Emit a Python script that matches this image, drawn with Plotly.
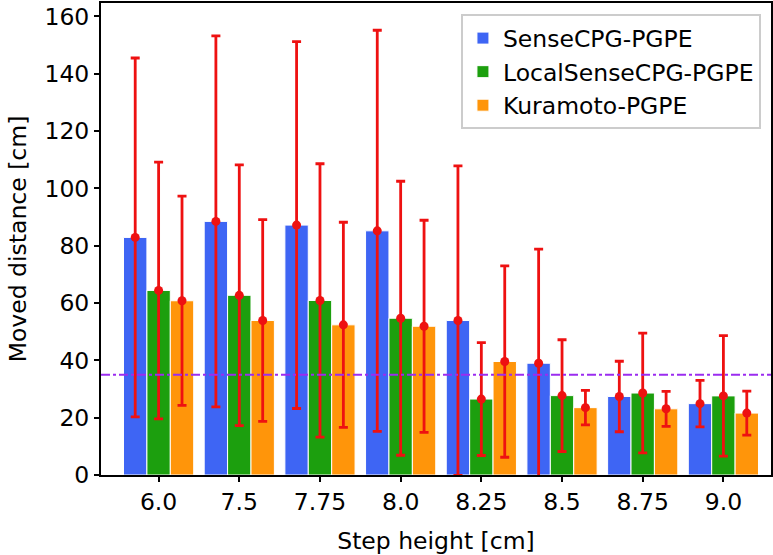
import numpy as np
import plotly.graph_objects as go

categories = ["6.0", "7.5", "7.75", "8.0", "8.25", "8.5", "8.75", "9.0"]
series_names = ["SenseCPG-PGPE", "LocalSenseCPG-PGPE", "Kuramoto-PGPE"]
sense_mean = [82.9, 88.5, 87.2, 85.2, 53.9, 39.0, 27.4, 24.9]
sense_std = [62.6, 64.7, 64.0, 70.0, 54.0, 39.8, 12.3, 8.1]
local_mean = [64.4, 62.7, 60.9, 54.7, 26.5, 27.7, 28.6, 27.6]
local_std = [44.8, 45.5, 47.7, 47.8, 19.7, 19.5, 20.9, 21.0]
kura_mean = [60.8, 53.9, 52.4, 51.9, 39.6, 23.5, 23.1, 21.6]
kura_std = [36.5, 35.2, 35.8, 37.0, 33.4, 6.0, 6.1, 7.7]
threshold = 35
y_ticks = [0, 20, 40, 60, 80, 100, 120, 140, 160]

colors = ["#3e65f4", "#1c9f0e", "#ff950a"]
err_color = "#ee1111"
line_color = "#9b2cf0"
FONT = "DejaVu Sans"
FS = 23.5

means = [sense_mean, local_mean, kura_mean]
stds = [sense_std, local_std, kura_std]

bar_w = 0.29
idx = np.arange(len(categories))

fig = go.Figure()
for k, (name, m, s, c) in enumerate(zip(series_names, means, stds, colors)):
    xpos = idx + (k - 1) * bar_w
    fig.add_trace(go.Bar(
        x=xpos, y=m, width=bar_w, name=name, marker=dict(color=c, line=dict(color="white", width=1)),
        legendgroup=name,
    ))
for k, (name, m, s) in enumerate(zip(series_names, means, stds)):
    xpos = idx + (k - 1) * bar_w
    fig.add_trace(go.Scatter(
        x=xpos, y=m, mode="markers", showlegend=False,
        marker=dict(color=err_color, size=9),
        error_y=dict(type="data", array=s, visible=True, color=err_color, thickness=2.8, width=4.5),
        cliponaxis=True,
    ))

fig.add_hline(y=threshold, line=dict(color=line_color, width=2, dash="dashdot"), layer="above")

fig.update_layout(
    width=773, height=555,
    margin=dict(l=101, r=2, t=3, b=80),
    plot_bgcolor="white", paper_bgcolor="white",
    barmode="overlay",
    font=dict(family=FONT, size=FS, color="black"),
    showlegend=True,
    legend=dict(
        x=0.985, y=0.976, xanchor="right", yanchor="top",
        bgcolor="rgba(255,255,255,0.85)", bordercolor="#cccccc", borderwidth=2,
        font=dict(family=FONT, size=FS), tracegroupgap=0, traceorder="grouped",
    ),
    xaxis=dict(
        range=[-0.714, 7.59], tickmode="array", tickvals=idx, ticktext=categories,
        showgrid=False, zeroline=False, showline=True, linecolor="black", linewidth=2, mirror=True,
        ticks="outside", ticklen=5, tickwidth=1.5, tickcolor="black", automargin=False,
        title=dict(text="Step height [cm]", standoff=18, font=dict(family=FONT, size=FS)),
    ),
    yaxis=dict(
        range=[0, 164.7], tickmode="array", tickvals=y_ticks,
        showgrid=False, zeroline=False, showline=True, linecolor="black", linewidth=2, mirror=True,
        ticks="outside", ticklen=5, tickwidth=1.5, tickcolor="black", automargin=False,
        title=dict(text="Moved distance [cm]", standoff=11, font=dict(family=FONT, size=FS)),
    ),
)

fig.write_html(
    "out.html",
    config={"displayModeBar": False},
    post_script="document.body.style.margin='0';document.body.style.padding='0';",
)
